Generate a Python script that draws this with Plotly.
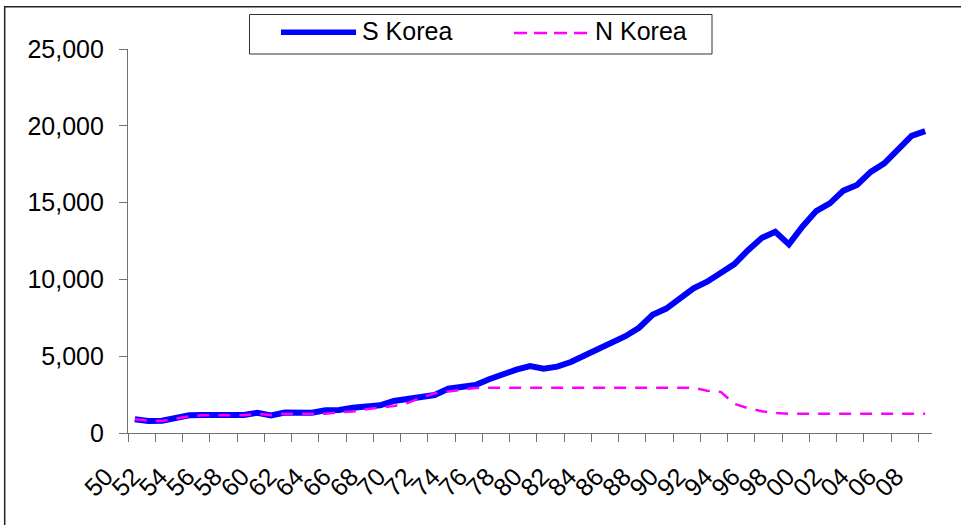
import plotly.graph_objects as go

# GDP per capita, 1950-2008
years = list(range(1950, 2009))

s_korea = [
    900, 780, 800, 1020, 1150, 1170, 1170, 1170, 1180, 1320,
    1150, 1330, 1320, 1320, 1480, 1500, 1650, 1700, 1800, 2080,
    2200, 2330, 2470, 2880, 3000, 3120, 3500, 3850, 4120, 4360,
    4190, 4320, 4620, 5050, 5450, 5840, 6300, 6850, 7700, 8100,
    8750, 9420, 9850, 10400, 11000, 11900, 12700, 13100, 12280, 13450,
    14450, 14950, 15780, 16150, 17000, 17560, 18420, 19340, 19650,
]

n_korea = [
    900, 800, 780, 950, 1080, 1150, 1150, 1150, 1150, 1260,
    1150, 1260, 1260, 1260, 1260, 1350, 1400, 1550, 1650, 1750,
    1950, 2300, 2580, 2700, 2850, 2930, 2940, 2940, 2940, 2940,
    2940, 2940, 2940, 2940, 2940, 2940, 2940, 2940, 2940, 2940,
    2940, 2940, 2750, 2680, 1900, 1620, 1420, 1300, 1250, 1250,
    1250, 1250, 1250, 1250, 1250, 1250, 1250, 1250, 1250,
]

label_years = years[::2]
label_text = [f"{y % 100:02d}" for y in label_years]
tick_bounds = [y - 0.5 for y in label_years]

y_ticks = [0, 5000, 10000, 15000, 20000, 25000]

FONT = "Liberation Sans, Arial, sans-serif"
BLUE = "#0000FF"
MAGENTA = "#FF00FF"
AXIS = "#707070"

# plot area in pixels
L, R, T, B = 128, 932, 49, 433


def px(x):
    return (x - L) / (R - L)


def py(y):
    return (B - y) / (B - T)


fig = go.Figure()
fig.add_trace(go.Scatter(
    x=years, y=s_korea, mode="lines", name="S Korea",
    line=dict(color=BLUE, width=6), showlegend=False,
))
fig.add_trace(go.Scatter(
    x=years, y=n_korea, mode="lines", name="N Korea",
    line=dict(color=MAGENTA, width=2.5, dash="12px,9px"), showlegend=False,
))

shapes = [
    # outer frame
    dict(type="rect", xref="paper", yref="paper",
         x0=px(4.7), x1=px(975), y0=py(6.7), y1=py(540),
         line=dict(color="#222222", width=1.5), fillcolor="rgba(0,0,0,0)", layer="below"),
    # legend box
    dict(type="rect", xref="paper", yref="paper",
         x0=px(249.5), x1=px(712), y0=py(14.5), y1=py(54),
         line=dict(color="#333333", width=1), fillcolor="white"),
    # legend samples
    dict(type="line", xref="paper", yref="paper",
         x0=px(281), x1=px(356), y0=py(32.3), y1=py(32.3),
         line=dict(color=BLUE, width=5.5)),
    dict(type="line", xref="paper", yref="paper",
         x0=px(514), x1=px(588), y0=py(33), y1=py(33),
         line=dict(color=MAGENTA, width=2.5, dash="13px,7px")),
]

annotations = [
    dict(text="S Korea", xref="paper", yref="paper", x=px(360), y=py(31),
         xanchor="left", yanchor="middle", showarrow=False,
         font=dict(family=FONT, size=25, color="black")),
    dict(text="N Korea", xref="paper", yref="paper", x=px(593), y=py(31),
         xanchor="left", yanchor="middle", showarrow=False,
         font=dict(family=FONT, size=25, color="black")),
]

fig.update_layout(
    width=961, height=525,
    margin=dict(l=L, r=961 - R, t=T, b=525 - B, pad=0),
    paper_bgcolor="white", plot_bgcolor="white",
    font=dict(family=FONT, size=25, color="black"),
    shapes=shapes, annotations=annotations,
    showlegend=False,
)

fig.update_xaxes(
    range=[1949.5, 2008.5], showgrid=False, zeroline=False,
    showline=True, linecolor=AXIS, linewidth=1.2,
    tickmode="array", tickvals=label_years, ticktext=label_text,
    ticks="", tickangle=-45, ticklabelstandoff=18, ticklabelshift=-29,
    tickfont=dict(family=FONT, size=25, color="black"),
    minor=dict(tickmode="array", tickvals=tick_bounds, ticks="outside",
               ticklen=8, tickcolor=AXIS, tickwidth=1.2, showgrid=False),
)

fig.update_yaxes(
    range=[0, 25000], showgrid=False, zeroline=False,
    showline=True, linecolor=AXIS, linewidth=1.2,
    tickmode="array", tickvals=y_ticks, tickformat=",d",
    ticks="outside", ticklen=8, tickcolor=AXIS, tickwidth=1.2,
    ticklabelstandoff=10,
    tickfont=dict(family=FONT, size=25, color="black"),
)

fig.write_html("out.html")
